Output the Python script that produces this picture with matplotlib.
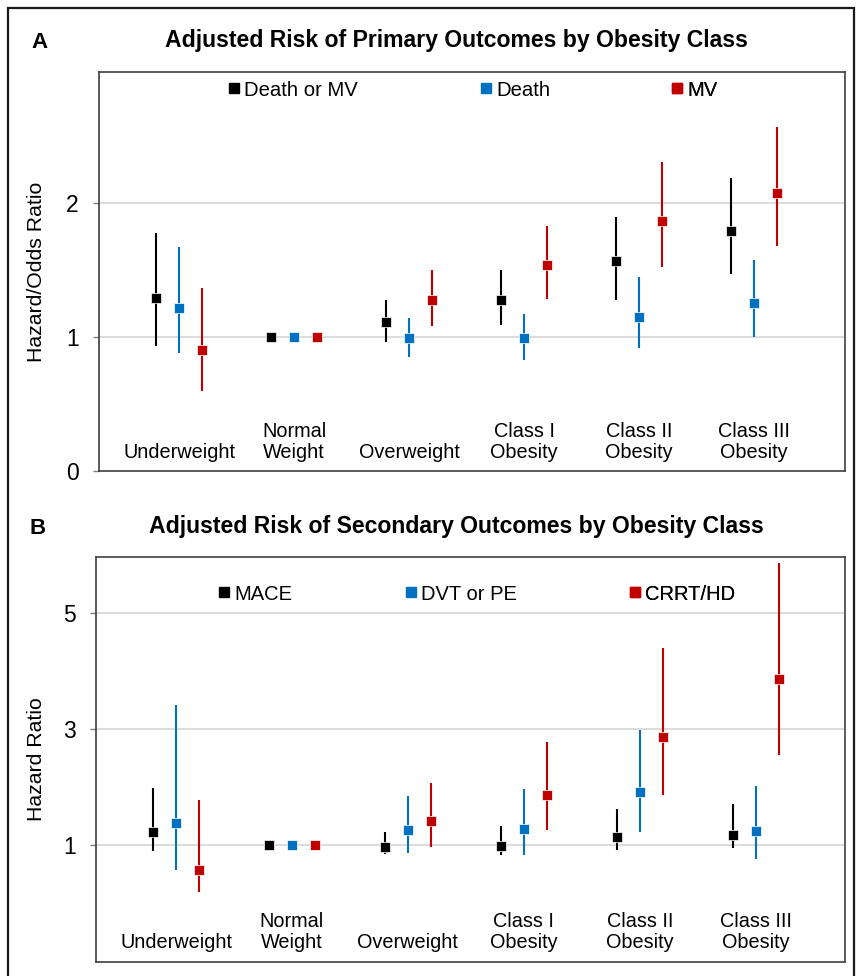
import matplotlib
matplotlib.use("Agg")
import matplotlib.pyplot as plt
from matplotlib.lines import Line2D
from matplotlib.patches import Rectangle
import numpy as np

plt.rcParams['font.family'] = ['Liberation Sans', 'DejaVu Sans']

# ---------------- data ----------------
categories = ["Underweight", "Normal\nWeight", "Overweight",
              "Class I\nObesity", "Class II\nObesity", "Class III\nObesity"]

# Panel A: primary outcomes
a_names = ["Death or MV", "Death", "MV"]
a_est = [
    [1.29, 1.00, 1.11, 1.28, 1.565, 1.79],   # Death or MV
    [1.22, 1.00, 0.99, 0.99, 1.15, 1.255],   # Death
    [0.905, 1.00, 1.275, 1.54, 1.87, 2.08],  # MV
]
a_lo = [
    [0.93, 1.00, 0.96, 1.09, 1.28, 1.47],
    [0.885, 1.00, 0.855, 0.83, 0.92, 1.00],
    [0.60, 1.00, 1.08, 1.285, 1.52, 1.68],
]
a_hi = [
    [1.78, 1.00, 1.28, 1.50, 1.90, 2.19],
    [1.67, 1.00, 1.145, 1.17, 1.45, 1.575],
    [1.37, 1.00, 1.50, 1.83, 2.31, 2.57],
]

# Panel B: secondary outcomes
b_names = ["MACE", "DVT or PE", "CRRT/HD"]
b_est = [
    [1.22, 1.00, 0.96, 0.99, 1.13, 1.18],
    [1.38, 1.00, 1.26, 1.28, 1.91, 1.24],
    [0.57, 1.00, 1.42, 1.87, 2.87, 3.87],
]
b_lo = [
    [0.90, 1.00, 0.84, 0.83, 0.91, 0.95],
    [0.56, 1.00, 0.86, 0.83, 1.22, 0.75],
    [0.18, 1.00, 0.97, 1.26, 1.86, 2.56],
]
b_hi = [
    [1.99, 1.00, 1.23, 1.32, 1.62, 1.70],
    [3.41, 1.00, 1.84, 1.97, 2.98, 2.02],
    [1.78, 1.00, 2.07, 2.78, 4.40, 5.86],
]

a_yticks = [0, 1, 2]
b_yticks = [1, 3, 5]

colors = ["#000000", "#0070C0", "#C00000"]

# ---------------- figure ----------------
W, H = 857, 976
fig = plt.figure(figsize=(W / 100, H / 100), dpi=100)

def px_axes(l, t, r, b):
    return fig.add_axes([l / W, 1 - b / H, (r - l) / W, (b - t) / H])

axA = px_axes(99, 72, 845, 471)
axB = px_axes(96, 557, 845, 962)

offsets = [-0.2, 0.0, 0.2]
x = np.arange(len(categories))


def draw_panel(ax, names, est, lo, hi, ylim, yticks, ylabel, xlim,
               label_y, leg_px, leg_y_px, axpx, legfs):
    for i in range(3):
        e = np.array(est[i]); l = np.array(lo[i]); h = np.array(hi[i])
        ax.errorbar(x + offsets[i], e, yerr=[e - l, h - e], fmt='s',
                    color=colors[i], ecolor=colors[i], elinewidth=1.5,
                    capsize=0, markersize=7.6, markeredgecolor='white',
                    markeredgewidth=0.5, zorder=3)
    ax.set_xlim(*xlim)
    ax.set_ylim(*ylim)
    ax.set_yticks(yticks)
    ax.set_yticklabels([str(t) for t in yticks])
    ax.set_xticks([])
    for t in yticks:
        if ylim[0] < t < ylim[1] and t != 0:
            ax.axhline(t, color='#d9d9d9', lw=1.3, zorder=1)
    ax.tick_params(axis='y', length=4.5, width=1, color='#7f7f7f',
                   labelsize=16.5, pad=10)
    for s in ax.spines.values():
        s.set_color('#404040')
        s.set_linewidth(1.2)
    ax.set_ylabel(ylabel, fontsize=15.3)
    l, t, r, b = axpx
    ax.yaxis.set_label_coords((46 - l) / (r - l), 0.5)
    for xi, cat in zip(x, categories):
        ax.text(xi, label_y, cat, ha='center', va='baseline',
                multialignment='center', fontsize=14.3, linespacing=1.12)
    # legend entries
    for i in range(3):
        h_ = Line2D([], [], marker='s', linestyle='none', color=colors[i],
                    markersize=6.5)
        fx = (leg_px[i] - 7 - l) / (r - l)
        fy = (b - leg_y_px) / (b - t)
        leg = ax.legend([h_], [names[i]], loc='center left',
                        bbox_to_anchor=(fx, fy), frameon=False,
                        handlelength=0.7, handletextpad=0.15, borderpad=0,
                        borderaxespad=0, fontsize=legfs)
        ax.add_artist(leg)


draw_panel(axA, a_names, a_est, a_lo, a_hi, (0, 2.98), a_yticks,
           "Hazard/Odds Ratio", (-0.696, 5.79), 0.097,
           [234, 486, 677], 90, (99, 72, 845, 471), 14.6)
draw_panel(axB, b_names, b_est, b_lo, b_hi, (-1.02, 5.97), b_yticks,
           "Hazard Ratio", (-0.69, 5.77), -0.776,
           [224, 411, 635], 594, (96, 557, 845, 962), 14.5)

# titles and panel letters
fig.text(456 / W, 1 - 40 / H, "Adjusted Risk of Primary Outcomes by Obesity Class",
         ha='center', va='center', fontsize=16.6, fontweight='bold')
fig.text(456 / W, 1 - 527 / H, "Adjusted Risk of Secondary Outcomes by Obesity Class",
         ha='center', va='center', fontsize=16.6, fontweight='bold')
fig.text(40 / W, 1 - 43 / H, "A", ha='center', va='center', fontsize=16,
         fontweight='bold')
fig.text(38 / W, 1 - 528 / H, "B", ha='center', va='center', fontsize=16,
         fontweight='bold')

# outer frame
fig.patches.append(Rectangle((8 / W, -0.02), (854 - 8) / W, 1.02 - 8 / H,
                             transform=fig.transFigure, fill=False,
                             edgecolor='#1a1a1a', linewidth=1.6))

fig.savefig("out.png", dpi=100)
